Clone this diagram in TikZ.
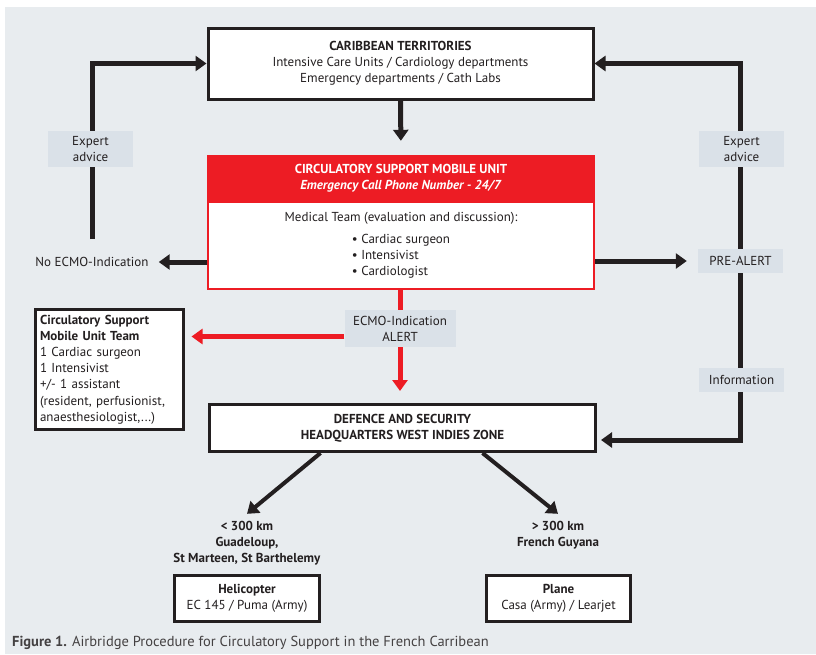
\documentclass[tikz,border=0pt]{standalone}
\usepackage{fontspec}
\setmainfont{PT Sans}
\usetikzlibrary{arrows.meta}
\definecolor{bgcol}{HTML}{E8ECEF}
\definecolor{labcol}{HTML}{DAE1E8}
\definecolor{alarm}{HTML}{ED1C24}
\definecolor{ink}{HTML}{231F20}

\begin{document}
\begin{tikzpicture}[x=1pt,y=-1pt]
        \tikzstyle{every node}=[font=\fontsize{13}{16}\selectfont, text=ink, inner sep=0pt]
        \tikzstyle{box}=[rectangle, draw=ink, line width=3pt, fill=white, align=center]
        \tikzstyle{tag}=[rectangle, fill=labcol, align=center, minimum width=85pt]
        \tikzstyle{edge}=[ink, line width=5pt, -{Triangle[length=11pt,width=15pt]}]
        \tikzstyle{redge}=[alarm, line width=5pt, -{Triangle[length=11pt,width=15pt]}]

        \useasboundingbox (0,0) rectangle (816,654);
        \fill[bgcol] (5,7) rectangle (816,654);

        \node[box, minimum width=385pt, minimum height=71pt] (carib) at (400.5,63.5)
            {\textbf{CARIBBEAN TERRITORIES}\\ Intensive Care Units / Cardiology departments\\ Emergency departments / Cath Labs};

        \node[rectangle, draw=alarm, line width=2pt, fill=white, minimum width=386pt, minimum height=87pt] (csbody) at (401,245.5)
            {\begin{tabular}{@{}c@{}} Medical Team (evaluation and discussion):\\[6pt]
             \begin{tabular}{@{}l@{}} \textbullet\ Cardiac surgeon\\ \textbullet\ Intensivist\\ \textbullet\ Cardiologist \end{tabular}\end{tabular}};
        \node[rectangle, fill=alarm, text=white, align=center, minimum width=388pt, minimum height=46pt] (cshead) at (401,178)
            {\textbf{CIRCULATORY SUPPORT MOBILE UNIT}\\ \textbf{\textit{Emergency Call Phone Number - 24/7}}};

        \node (noecmo) at (92,262) {No ECMO-Indication};

        \node[box, align=left, text width=138pt, inner sep=5pt, font=\fontsize{13}{16.2}\selectfont] (team) at (109,369.5)
            {\textbf{Circulatory Support}\\ \textbf{Mobile Unit Team}\\ 1 Cardiac surgeon\\ 1 Intensivist\\ +/- 1 assistant\\ (resident, perfusionist,\\ anaesthesiologist,...)};

        \node[box, minimum width=386pt, minimum height=47pt] (defence) at (402.5,428)
            {\textbf{DEFENCE AND SECURITY}\\ \textbf{HEADQUARTERS WEST INDIES ZONE}};

        \node[align=center] (short) at (247,543) {\textbf{< 300 km}\\ \textbf{Guadeloup,}\\ \textbf{St Marteen, St Barthelemy}};
        \node[align=center] (long) at (558,535) {\textbf{> 300 km}\\ \textbf{French Guyana}};

        \node[box, minimum width=145pt, minimum height=46pt] (heli) at (247,598.5) {\textbf{Helicopter}\\ EC 145 / Puma (Army)};
        \node[box, minimum width=144pt, minimum height=46pt] (plane) at (558.5,598.5) {\textbf{Plane}\\ Casa (Army) / Learjet};

        \node[anchor=west, font=\fontsize{14.5}{16}\selectfont, text=ink!85] (caption) at (12,643)
            {\textbf{Figure 1.} Airbridge Procedure for Circulatory Support in the French Carribean};

        % black arrows
        \draw[edge, shorten >=14pt] (carib.south) -- (cshead.north);
        \draw[edge] (csbody.west |- noecmo) -- ([xshift=10pt]noecmo.east);
        \draw[edge] ([yshift=18pt]noecmo.north) |- (carib.west);

        \node[tag] (prealert) at (740.5,261) [minimum height=24pt] {PRE-ALERT};
        \draw[edge, shorten >=11pt] (csbody.east |- prealert) -- (prealert.west);
        \draw[edge] (prealert.north) |- (carib.east);
        \draw[edge, shorten >=4pt] (prealert.south) |- ([yshift=-12pt]defence.east);

        \node[tag, minimum height=36pt] (advl) at (90.5,149) {Expert\\ advice};
        \node[tag, minimum height=36pt] (advr) at (741.5,149) {Expert\\ advice};
        \node[tag, minimum height=24pt] (info) at (741.5,380) {Information};

        % red arrows
        \node[tag, minimum width=111pt, minimum height=37pt] (ecmo) at (400,328.5) {ECMO-Indication\\ ALERT};
        \coordinate (alertout) at ([yshift=-8pt]ecmo.west);
        \draw[alarm, line width=5pt] (ecmo.north |- csbody.south) -- (ecmo.north);
        \draw[redge, shorten >=12pt] (ecmo.south) -- (ecmo.south |- defence.north);
        \draw[redge, shorten >=7pt] (alertout) -- (alertout -| team.east);

        \draw[edge, line width=4pt] ([xshift=-82pt]defence.south) -- ([yshift=7pt]short.north);
        \draw[edge, line width=4pt] ([xshift=80pt]defence.south) -- ([yshift=7pt]long.north);
\end{tikzpicture}
\end{document}
